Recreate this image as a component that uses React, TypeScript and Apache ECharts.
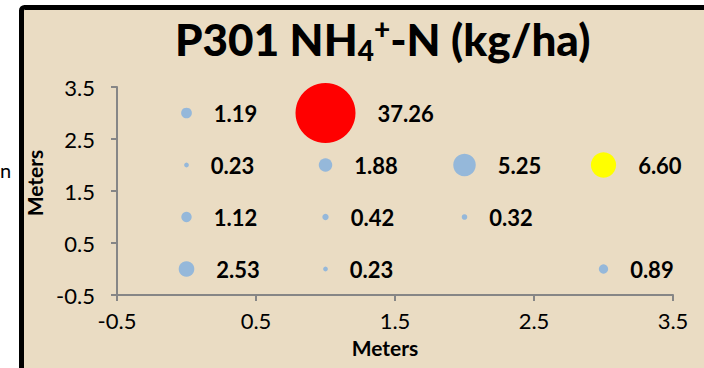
import React, { useEffect, useRef } from "react";
import * as echarts from "echarts";

// Data (grid positions in meters and NH4+-N values in kg/ha)
const xPos = [0, 1, 0, 1, 2, 3, 0, 1, 2, 0, 1, 3];
const yPos = [3, 3, 2, 2, 2, 2, 1, 1, 1, 0, 0, 0];
const values = [1.19, 37.26, 0.23, 1.88, 5.25, 6.6, 1.12, 0.42, 0.32, 2.53, 0.23, 0.89];
const axisTicks = [-0.5, 0.5, 1.5, 2.5, 3.5];

const titleText = "P301 NH";
const axisName = "Meters";

export default function App() {
  const ref = useRef<HTMLDivElement>(null);
  useEffect(() => {
    if (!ref.current) return;
    const chart = echarts.init(ref.current, undefined, { renderer: "svg" });
    const maxV = Math.max(...values);
    const maxSize = 60;
    const pointColor = (v: number) => (v === maxV ? "#FF0000" : v === 6.6 ? "#FFFF00" : "#95B8DA");
    const data = values.map((v, i) => [xPos[i], yPos[i], v]);
    const font = "Lato";
    chart.setOption({
      animation: false,
      backgroundColor: "#FFFFFF",
      title: {
        text: "{a|" + titleText + "}{sub|4}{sup|+}{a|-N (kg/ha)}",
        left: 170,
        top: 9,
        textStyle: {
          rich: {
            a: { fontFamily: font, fontWeight: 900, fontSize: 44, color: "#000", lineHeight: 50, verticalAlign: "middle" },
            sub: { fontFamily: font, fontWeight: 900, fontSize: 28, color: "#000", lineHeight: 28, verticalAlign: "bottom", padding: [14, 0, 0, 0] },
            sup: { fontFamily: font, fontWeight: 900, fontSize: 28, color: "#000", lineHeight: 28, verticalAlign: "top", padding: [0, 0, 12, 0] },
          },
        },
      },
      graphic: [
        {
          type: "rect",
          z: -10,
          silent: true,
          shape: { x: 21.5, y: 7.5, width: 700, height: 380, r: 3 },
          style: { fill: "#EADCC3", stroke: "#000", lineWidth: 5 },
        },
        {
          type: "text",
          left: 0,
          top: 160,
          style: { text: "n", fontFamily: font, fontSize: 20, fill: "#000" },
        },
      ],
      grid: { left: 117, right: 31, top: 87, bottom: 73 },
      xAxis: {
        type: "value",
        min: axisTicks[0],
        max: axisTicks[axisTicks.length - 1],
        interval: 1,
        name: axisName,
        nameLocation: "middle",
        nameGap: 42,
        nameTextStyle: { fontFamily: font, fontWeight: "bold", fontSize: 21, color: "#000", padding: [0, 20, 0, 0] },
        axisLine: { show: true, onZero: false, lineStyle: { color: "#868686", width: 2 } },
        axisTick: { show: true, length: 6, lineStyle: { color: "#868686", width: 2 } },
        splitLine: { show: false },
        axisLabel: { fontFamily: font, fontSize: 22, color: "#000", margin: 14, formatter: (v: number) => String(v) },
      },
      yAxis: {
        type: "value",
        min: axisTicks[0],
        max: axisTicks[axisTicks.length - 1],
        interval: 1,
        name: axisName,
        nameLocation: "middle",
        nameGap: 63,
        nameTextStyle: { fontFamily: font, fontWeight: "bold", fontSize: 21, color: "#000", padding: [0, 0, 0, 16] },
        axisLine: { show: true, onZero: false, lineStyle: { color: "#868686", width: 2 } },
        axisTick: { show: true, length: 6, lineStyle: { color: "#868686", width: 2 } },
        splitLine: { show: false },
        axisLabel: { fontFamily: font, fontSize: 22, color: "#000", margin: 22, formatter: (v: number) => String(v) },
      },
      series: [
        {
          type: "scatter",
          data,
          symbolSize: (d: number[]) => maxSize * Math.sqrt(d[2] / maxV),
          itemStyle: { color: (p: any) => pointColor(p.data[2]), opacity: 1 },
          label: {
            show: true,
            position: "right",
            distance: 22,
            formatter: (p: any) => p.data[2].toFixed(2),
            fontFamily: font,
            fontWeight: "bold",
            fontSize: 22,
            color: "#000",
          },
        },
      ],
    });
    return () => chart.dispose();
  }, []);
  return <div ref={ref} style={{ position: "fixed", left: 0, top: 0, width: 704, height: 368 }} />;
}
